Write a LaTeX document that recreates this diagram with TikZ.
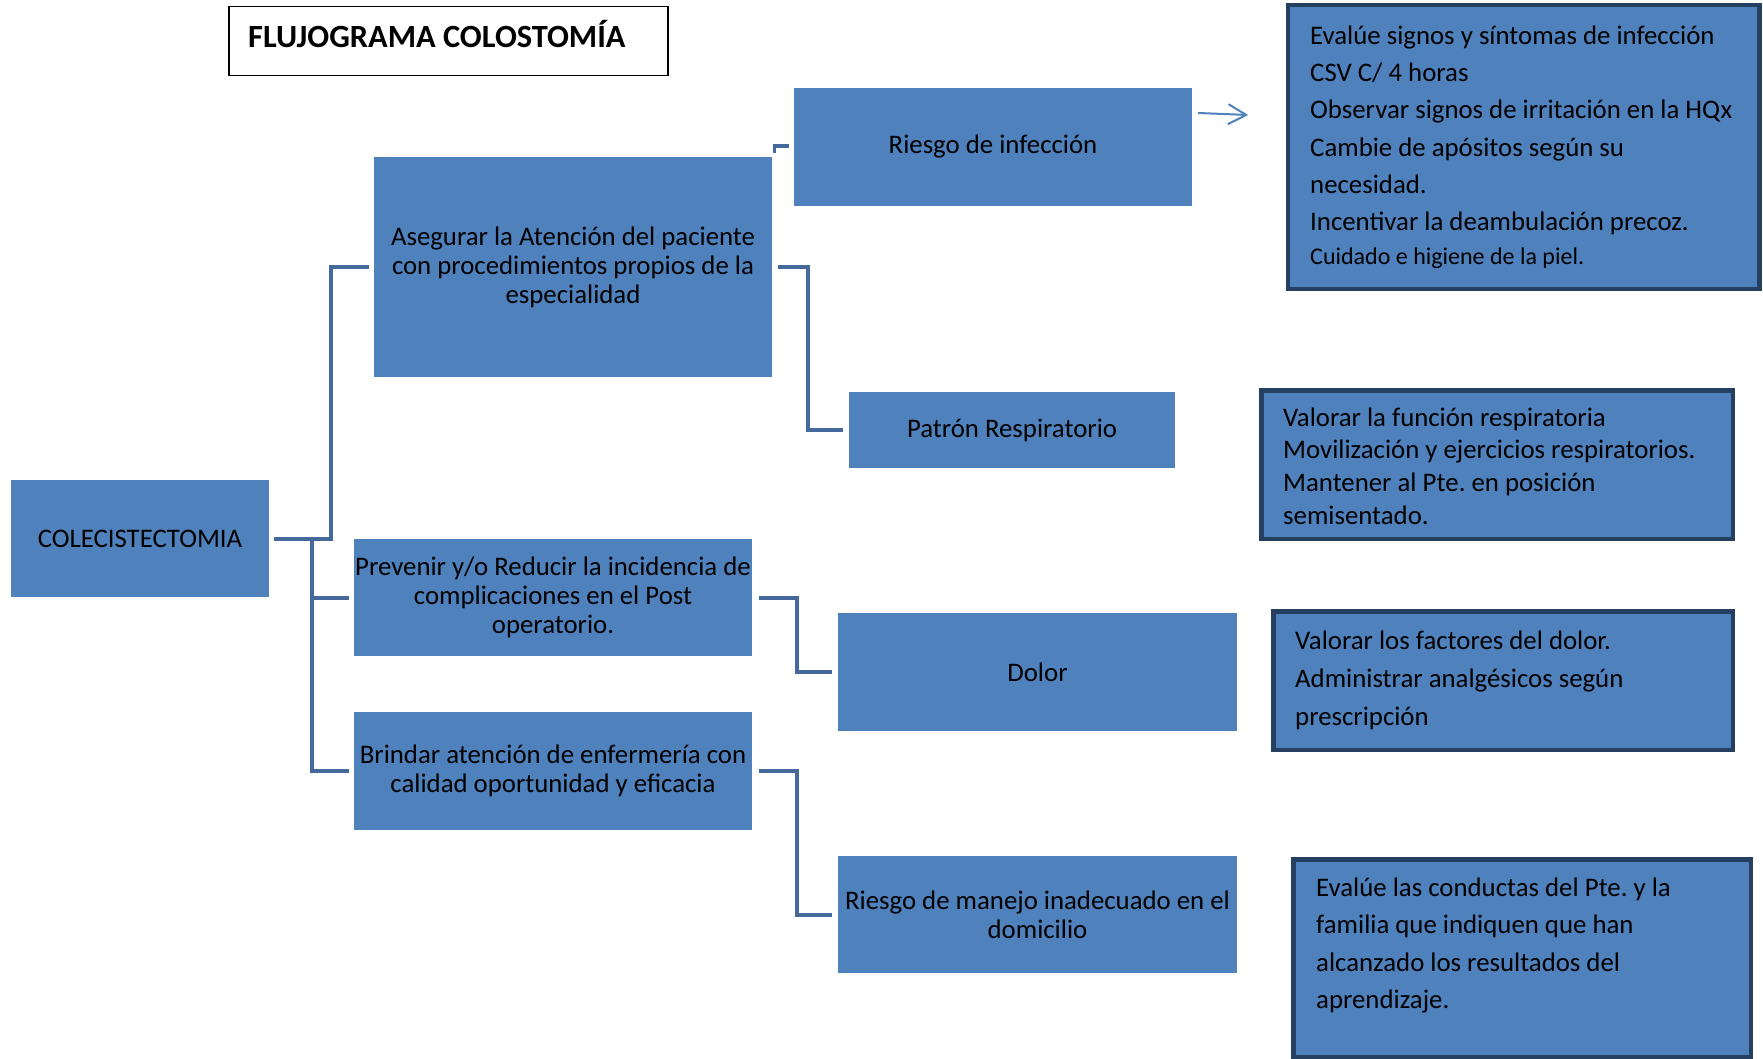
\documentclass[tikz,border=0pt]{standalone}
\usepackage{fontspec}
\setmainfont{Carlito}
\usetikzlibrary{arrows.meta,calc}
\definecolor{boxblue}{HTML}{4F81BD}
\definecolor{linkblue}{HTML}{45699A}
\definecolor{navy}{HTML}{243F60}
\frenchspacing
\begin{document}
\begin{tikzpicture}[x=1pt,y=-1pt,
  blk/.style={fill=boxblue, draw=none, inner sep=0pt, align=center,
    font=\fontsize{26.8}{29}\selectfont},
  act/.style={fill=boxblue, draw=navy, line width=4.5pt, inner sep=0pt},
  link/.style={draw=linkblue, line width=4pt},
  acttext/.style={anchor=base west, align=left, inner sep=0pt}
]
\useasboundingbox (0,0) rectangle (1763,1059);

% title
\node[draw=black, line width=1.5pt, minimum width=439pt, minimum height=69pt, inner sep=0pt]
  (titlebox) at (448.5,41) {};
\node[anchor=base west, inner sep=0pt, font=\fontsize{32.4}{38}\selectfont\bfseries]
  (titletext) at (248,48) {FLUJOGRAMA COLOSTOMÍA};

% main blocks
\node[blk, minimum width=258pt, minimum height=117pt] (col) at (140,538.5) {COLECISTECTOMIA};
\node[blk, minimum width=398pt, minimum height=220pt] (aseg) at (573,267)
  {Asegurar la Atención del paciente\\con procedimientos propios de la\\especialidad};
\node[blk, minimum width=398pt, minimum height=117pt] (prev) at (553,597.5)
  {Prevenir y/o Reducir la incidencia de\\complicaciones en el Post\\operatorio.};
\node[blk, minimum width=398pt, minimum height=118pt] (brind) at (553,771)
  {Brindar atención de enfermería con\\calidad oportunidad y eficacia};
\node[blk, minimum width=398pt, minimum height=118pt] (rinf) at (993,147) {Riesgo de infección};
\node[blk, minimum width=326pt, minimum height=76pt] (patron) at (1012,430) {Patrón Respiratorio};
\node[blk, minimum width=399pt, minimum height=118pt] (dolor) at (1037.5,672) {Dolor};
\node[blk, minimum width=399pt, minimum height=117pt] (rman) at (1037.5,914.5)
  {Riesgo de manejo inadecuado en el\\domicilio};

% action boxes
\node[act, minimum width=471.5pt, minimum height=283.5pt] (act1) at (1523.5,147) {};
\node[act, minimum width=471.5pt, minimum height=148.5pt] (act2) at (1497,464.5) {};
\node[act, minimum width=459.5pt, minimum height=138.5pt] (act3) at (1503,680.5) {};
\node[act, minimum width=457.5pt, minimum height=197.5pt] (act4) at (1522,958) {};

% action texts (base anchor sits on the last line)
\node[acttext, font=\fontsize{26.8}{37.3}\selectfont] (t1) at (1310,265)
  {Evalúe signos y síntomas de infección\\CSV C/ 4 horas\\Observar signos de irritación en la HQx\\
   Cambie de apósitos según su\\necesidad.\\Incentivar la deambulación precoz.\\[-3pt]
   {\fontsize{24}{28}\selectfont Cuidado e higiene de la piel.}};
\node[acttext, font=\fontsize{26.8}{32.6}\selectfont] (t2) at (1283,524)
  {Valorar la función respiratoria\\Movilización y ejercicios respiratorios.\\
   Mantener al Pte. en posición\\semisentado.};
\node[acttext, font=\fontsize{26.8}{37.7}\selectfont] (t3) at (1295,725)
  {Valorar los factores del dolor.\\Administrar analgésicos según\\prescripción};
\node[acttext, font=\fontsize{26.8}{37.5}\selectfont] (t4) at (1316,1008.5)
  {Evalúe las conductas del Pte. y la\\familia que indiquen que han\\
   alcanzado los resultados del\\aprendizaje.};

% connectors
\coordinate (trunkA) at ($(col.east)+(62,0)$);
\coordinate (trunkB) at ($(col.east)+(43,0)$);
\draw[link] ($(col.east)+(5,0)$) -- (trunkA) |- ($(aseg.west)+(-5,0)$);
\draw[link] ($(prev.west)+(-5,0)$) -| (trunkB);
\draw[link] ($(brind.west)+(-5,0)$) -| (trunkB);
\draw[link, line width=3.5pt] ($(aseg.north east)+(2.5,-4)$) |- ($(rinf.west)+(-5,-1)$);
\draw[link] ($(aseg.east)+(6,0)$) -- ++(30,0) |- ($(patron.west)+(-6,0)$);
\draw[link] ($(prev.east)+(7,0)$) -- ++(38,0) |- ($(dolor.west)+(-6,0)$);
\draw[link] ($(brind.east)+(7,0)$) -- ++(38,0) |- ($(rman.west)+(-6,0)$);

% arrow toward the infection actions
\coordinate (arrA) at ($(rinf.east)+(6,-34)$);
\coordinate (arrB) at ($(rinf.east)+(56,-32)$);
\draw[boxblue, line width=2pt, -{Straight Barb[length=18pt,width=20pt,line width=2pt]}] (arrA) -- (arrB);
\end{tikzpicture}
\end{document}
